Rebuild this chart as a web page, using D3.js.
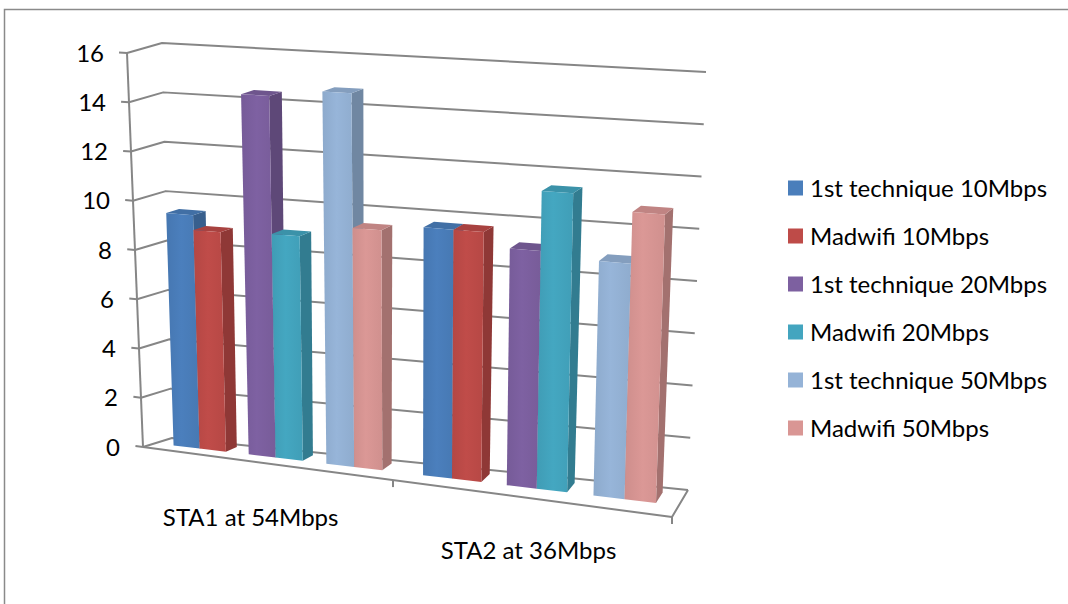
<!DOCTYPE html>
<html>
<head>
<meta charset="utf-8">
<script src="https://cdn.jsdelivr.net/npm/d3@7"></script>
<style>
  html, body { margin: 0; padding: 0; background: #ffffff; }
  svg text { font-family: Lato, "Open Sans", sans-serif; fill: #000000; }
</style>
</head>
<body>
<svg id="chart" width="1068" height="604"></svg>
<script>
// ---- data ----
const categories = ["STA1 at 54Mbps", "STA2 at 36Mbps"];
const seriesNames = [
  "1st technique 10Mbps", "Madwifi 10Mbps",
  "1st technique 20Mbps", "Madwifi 20Mbps",
  "1st technique 50Mbps", "Madwifi 50Mbps"
];
const tech10 = [9.4, 9.65];
const madwifi10 = [8.8, 9.65];
const tech20 = [14.4, 9.1];
const madwifi20 = [8.9, 11.4];
const tech50 = [14.7, 8.9];
const madwifi50 = [9.4, 10.85];
const seriesValues = [tech10, madwifi10, tech20, madwifi20, tech50, madwifi50];
const seriesColors = ["#4A7EBB", "#BE4B48", "#7D60A0", "#43A5BF", "#95B3D7", "#D99694"];
const yTicks = [0, 2, 4, 6, 8, 10, 12, 14, 16];

// ---- 3D box projection ----
// Screen position of each corner of the plot box, keyed x|y|z
// (x: left/right, y: bottom/top of value range, z: front/back).
const box = {
  "000": [143, 447], "100": [672, 517],
  "010": [127, 53],  "110": [684, 84],
  "001": [172, 438], "101": [688, 490],
  "011": [162, 43],  "111": [706, 72]
};
const perspective = -0.104;          // foreshortening along the category axis
const warpX = x => (1 + perspective) * x / (1 + perspective * x);
const yUnit = d3.scaleLinear().domain([0, 16]).range([0, 1]);
const lerp = (a, b, t) => [a[0] + (b[0] - a[0]) * t, a[1] + (b[1] - a[1]) * t];

function project(x, v, z) {
  const s = warpX(x), t = yUnit(v);
  const front = lerp(lerp(box["000"], box["100"], s), lerp(box["010"], box["110"], s), t);
  const back  = lerp(lerp(box["001"], box["101"], s), lerp(box["011"], box["111"], s), t);
  return lerp(front, back, z);
}

// ---- scales for bar placement ----
const xCat = d3.scaleBand().domain(categories).range([0, 1]);
const xPair = d3.scaleBand().domain([0, 1, 2]).range([0, xCat.bandwidth()])
  .paddingInner(0.3).paddingOuter(0.25);
const xMember = d3.scaleBand().domain([0, 1]).range([0, xPair.bandwidth()]);
const zFront = 0.42, zBack = 0.82;

const svg = d3.select("#chart");
const line = d3.line();

// chart frame
svg.append("rect")
  .attr("x", 4.5).attr("y", 9.5).attr("width", 1100).attr("height", 700)
  .attr("fill", "none").attr("stroke", "#8a8a8a").attr("stroke-width", 1.5);

// ---- walls and gridlines ----
const grid = svg.append("g").attr("fill", "none")
  .attr("stroke", "#868686").attr("stroke-width", 2).attr("stroke-linejoin", "round");

yTicks.forEach(v => {
  grid.append("path").attr("d", line([project(0, v, 0), project(0, v, 1), project(1, v, 1)]));
  grid.append("path").attr("d", line([project(-0.016, v, 0), project(0, v, 0)]));
});
// value axis
grid.append("path").attr("d", line([project(0, 0, 0), project(0, 16, 0)]));
// floor outline
grid.append("path").attr("d", line([project(0, 0, 0), project(1, 0, 0), project(1, 0, 1)]));
// category ticks
[0.5, 1].forEach(x => {
  const p = project(x, 0, 0);
  grid.append("path").attr("d", line([p, [p[0], p[1] + 7]]));
});

// ---- value labels ----
svg.append("g").selectAll("text").data(yTicks).join("text")
  .attr("x", d => project(0, d, 0)[0] - 23)
  .attr("y", d => project(0, d, 0)[1])
  .attr("dy", "0.36em")
  .attr("text-anchor", "end")
  .style("font-size", "24px")
  .text(d => d);

// ---- category labels ----
svg.append("g").selectAll("text").data(categories).join("text")
  .attr("x", d => project(xCat(d) + xCat.bandwidth() / 2, 0, 0)[0] - (d === categories[0] ? 14 : 0))
  .attr("y", (d, i) => project(xCat(d) + xCat.bandwidth() / 2, 0, 0)[1] + 54 + i * -2)
  .attr("dy", "0.36em")
  .attr("text-anchor", "middle")
  .style("font-size", "24px")
  .text(d => d);

// ---- bars ----
const defs = svg.append("defs");
seriesColors.forEach((c, i) => {
  const g = defs.append("linearGradient").attr("id", "front" + i)
    .attr("x1", 0).attr("x2", 1).attr("y1", 0).attr("y2", 0);
  g.append("stop").attr("offset", "0%").attr("stop-color", d3.color(c).darker(0.15));
  g.append("stop").attr("offset", "45%").attr("stop-color", d3.color(c).brighter(0.03));
  g.append("stop").attr("offset", "100%").attr("stop-color", d3.color(c).darker(0.12));
});

const bars = [];
categories.forEach((cat, ci) => {
  seriesValues.forEach((vals, si) => {
    const x0 = xCat(cat) + xPair(Math.floor(si / 2)) + xMember(si % 2);
    bars.push({ x0, x1: x0 + xMember.bandwidth(), v: vals[ci], si });
  });
});
bars.sort((a, b) => a.x0 - b.x0);

const barG = svg.append("g");
bars.forEach(b => {
  const g = barG.append("g");
  const c = seriesColors[b.si];
  const side = [project(b.x1, 0, zFront), project(b.x1, 0, zBack), project(b.x1, b.v, zBack), project(b.x1, b.v, zFront)];
  const top = [project(b.x0, b.v, zFront), project(b.x1, b.v, zFront), project(b.x1, b.v, zBack), project(b.x0, b.v, zBack)];
  const front = [project(b.x0, 0, zFront), project(b.x1, 0, zFront), project(b.x1, b.v, zFront), project(b.x0, b.v, zFront)];
  g.append("path").attr("d", line(side) + "Z").attr("fill", d3.color(c).darker(0.8));
  g.append("path").attr("d", line(top) + "Z").attr("fill", d3.color(c).darker(0.35));
  g.append("path").attr("d", line(front) + "Z").attr("fill", `url(#front${b.si})`);
});

// ---- legend ----
const legend = svg.append("g").selectAll("g").data(seriesNames).join("g")
  .attr("transform", (d, i) => `translate(788, ${188 + i * 48})`);
legend.append("rect").attr("x", 0).attr("y", -7.5).attr("width", 15).attr("height", 15)
  .attr("fill", (d, i) => seriesColors[i]);
legend.append("text").attr("x", 22).attr("y", 0).attr("dy", "0.36em")
  .style("font-size", "24px").text(d => d);
</script>
</body>
</html>
